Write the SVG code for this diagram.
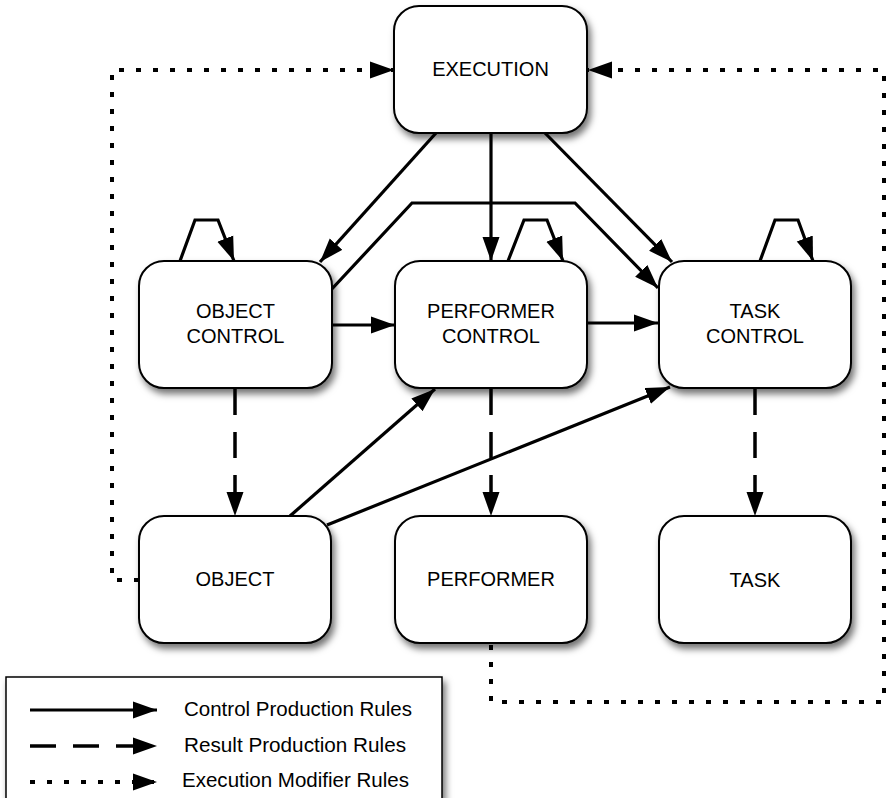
<svg xmlns="http://www.w3.org/2000/svg" width="886" height="798" viewBox="0 0 886 798">
<style>
.box{fill:#fff;stroke:#000;stroke-width:2;filter:url(#sh)}
.lbl{font-family:"Liberation Sans",Arial,Helvetica,sans-serif;font-size:20px;fill:#000;text-anchor:middle}
.leg{font-family:"Liberation Sans",Arial,Helvetica,sans-serif;font-size:19.5px;fill:#000}
.solid{fill:none;stroke:#000;stroke-width:3.2;marker-end:url(#ah)}
.dash{fill:none;stroke:#000;stroke-width:3.5;stroke-dasharray:26 17;marker-end:url(#ah)}
.dot{fill:none;stroke:#000;stroke-width:4;stroke-dasharray:5 12;marker-end:url(#ah)}
</style>
<defs>
<filter id="sh" x="-20%" y="-20%" width="150%" height="150%">
<feDropShadow dx="3" dy="5" stdDeviation="3.5" flood-color="#000" flood-opacity="0.55"/>
</filter>
<marker id="ah" markerUnits="userSpaceOnUse" markerWidth="25" markerHeight="18" viewBox="0 0 25 18" refX="24" refY="9" orient="auto">
<path d="M0,0.5 L24,9 L0,17.5 Z" fill="#000"/>
</marker>
</defs>
<rect x="0" y="0" width="886" height="798" fill="#fff"/>

<g id="legend">
<rect x="6" y="677" width="436" height="122" fill="#fff" stroke="#000" stroke-width="1.5" filter="url(#sh)"/>
<path class="solid" d="M30,710 L157,710"/>
<path class="dash" d="M30,746 L157,746"/>
<path class="dot" d="M30,782 L157,782"/>
<text class="leg" x="184" y="716" textLength="228" lengthAdjust="spacingAndGlyphs">Control Production Rules</text>
<text class="leg" x="184" y="752" textLength="222" lengthAdjust="spacingAndGlyphs">Result Production Rules</text>
<text class="leg" x="182" y="787" textLength="227" lengthAdjust="spacingAndGlyphs">Execution Modifier Rules</text>
</g>

<g id="connectors">
<path class="solid" d="M436,133 L320,262"/>
<path class="solid" d="M491,133 L491,261"/>
<path class="solid" d="M545,133 L672,262"/>
<path class="solid" d="M330,291 L412,203 L575,203 L658,288"/>
<path class="solid" d="M332,325 L395,325"/>
<path class="solid" d="M587,323 L658,323"/>
<path class="solid" d="M290,516 L435,389"/>
<path class="solid" d="M327,525 L670,387"/>
<path class="solid" d="M180,261 L195,220 L218,220 L234,261"/>
<path class="solid" d="M508,261 L524,220 L547,220 L563,261"/>
<path class="solid" d="M760,261 L775,220 L798,220 L813,261"/>
<path class="dash" d="M235,389 L235,516"/>
<path class="dash" d="M491,389 L491,516"/>
<path class="dash" d="M755,389 L755,516"/>
<path class="dot" d="M139,580 L112,580 L112,70 L394,70"/>
<path class="dot" d="M491,645 L491,702 L884,702 L884,70 L588,70"/>
</g>

<g id="execution">
<rect class="box" x="394" y="6" width="193" height="127" rx="25"/>
<text class="lbl" x="490.5" y="76">EXECUTION</text>
</g>
<g id="object-control">
<rect class="box" x="139" y="261" width="193" height="127" rx="25"/>
<text class="lbl" x="235.5" y="318">OBJECT</text>
<text class="lbl" x="235.5" y="343">CONTROL</text>
</g>
<g id="performer-control">
<rect class="box" x="395" y="261" width="192" height="127" rx="25"/>
<text class="lbl" x="491" y="318">PERFORMER</text>
<text class="lbl" x="491" y="343">CONTROL</text>
</g>
<g id="task-control">
<rect class="box" x="659" y="261" width="192" height="127" rx="25"/>
<text class="lbl" x="755" y="318">TASK</text>
<text class="lbl" x="755" y="343">CONTROL</text>
</g>
<g id="object">
<rect class="box" x="139" y="516" width="192" height="127" rx="25"/>
<text class="lbl" x="235" y="586">OBJECT</text>
</g>
<g id="performer">
<rect class="box" x="395" y="516" width="192" height="127" rx="25"/>
<text class="lbl" x="491" y="586">PERFORMER</text>
</g>
<g id="task">
<rect class="box" x="659" y="516" width="192" height="127" rx="25"/>
<text class="lbl" x="755" y="587">TASK</text>
</g>
</svg>
